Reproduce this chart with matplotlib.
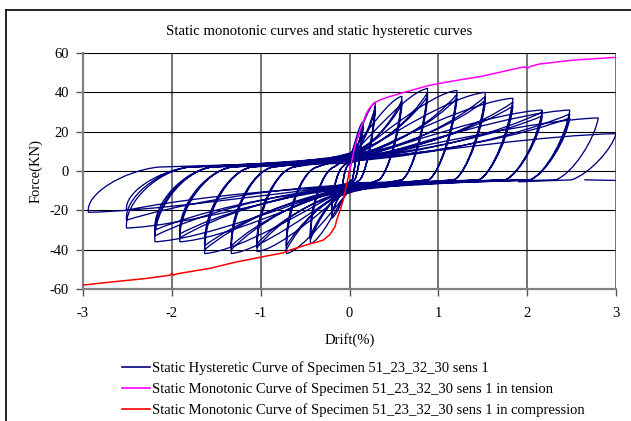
import numpy as np
import matplotlib
matplotlib.use('Agg')
import matplotlib.pyplot as plt
from matplotlib.path import Path
from matplotlib.patches import PathPatch
from matplotlib.lines import Line2D

plt.rcParams['font.family'] = ['Liberation Serif', 'DejaVu Serif']

# ---------------- data ----------------
title = "Static monotonic curves and static hysteretic curves"
x_label = "Drift(%)"
y_label = "Force(KN)"
x_ticks = [-3, -2, -1, 0, 1, 2, 3]
y_ticks = [-60, -40, -20, 0, 20, 40, 60]
legend_labels = [
    "Static Hysteretic Curve of Specimen 51_23_32_30 sens 1",
    "Static Monotonic Curve of Specimen 51_23_32_30 sens 1 in tension",
    "Static Monotonic Curve of Specimen 51_23_32_30 sens 1 in compression",
]

# hysteretic cycles: positive peak (drift, force) and negative peak (drift, force)
cyc_pos_drift = [0.08, 0.08, 0.08, 0.15, 0.15, 0.15, 0.29, 0.29, 0.29,
                 0.59, 0.59, 0.59, 0.88, 0.88, 0.88, 1.21, 1.21, 1.21,
                 1.53, 1.53, 1.53, 1.84, 1.84, 1.84, 2.17, 2.17, 2.17,
                 2.48, 2.48, 2.48, 2.80, 3.00]
cyc_pos_force = [14, 13, 12, 25, 23, 22, 35, 33, 31,
                 38, 36, 34, 42, 40, 38, 41, 39, 37,
                 40, 38, 36, 37, 35, 33, 31, 30, 28,
                 31, 29, 27, 27, 19]
cyc_neg_drift = [-0.08, -0.08, -0.08, -0.20, -0.20, -0.20, -0.44, -0.44, -0.44,
                 -0.71, -0.71, -0.71, -1.04, -1.04, -1.04, -1.33, -1.33, -1.33,
                 -1.63, -1.63, -1.63, -1.91, -1.91, -1.91, -2.19, -2.19, -2.19,
                 -2.51, -2.51, -2.51, -2.94]
cyc_neg_force = [-12, -11, -10, -24, -22, -21, -37, -35, -33,
                 -42, -40, -38, -41, -39, -37, -42, -40, -38,
                 -42, -40, -38, -36, -34, -32, -36, -33, -30,
                 -29, -25, -20, -21]
# force where each cycle crosses zero drift on the upper / lower pinched band
band_upper = [3, 4, 4, 5, 5, 6, 6, 7, 7, 8, 8, 9, 7, 8, 9, 6, 7, 8,
              6, 7, 8, 5, 6, 7, 5, 6, 7, 4, 5, 6, 5, 5]
band_lower = [-5, -6, -6, -7, -7, -8, -8, -9, -9, -10, -10, -11, -9, -10, -11,
              -8, -9, -10, -8, -9, -10, -7, -8, -9, -7, -8, -9, -6, -7, -8, -7, -6]
tail_drift = [2.65, 3.0]
tail_force = [-4.5, -4.8]

# monotonic curves
tens_drift = [0, 0.03, 0.06, 0.12, 0.19, 0.22, 0.25, 0.29, 0.35, 0.45, 0.64, 0.87,
              1.02, 1.25, 1.47, 1.75, 1.97, 2.00, 2.03, 2.14, 2.52, 3.0]
tens_force = [0, 6, 12.4, 21, 29.3, 31.6, 33.3, 34.9, 36.3, 37.8, 40.3, 43.2,
              44.6, 46.4, 48, 50.8, 53, 52.0, 53.1, 54.4, 56.4, 57.8]
comp_drift = [0, -0.04, -0.07, -0.11, -0.144, -0.163, -0.22, -0.295, -0.37, -0.445,
              -0.55, -0.67, -0.745, -1.0, -1.3, -1.57, -1.945, -1.98, -2.0, -2.02,
              -2.28, -2.65, -3.0]
comp_force = [0, -8.5, -14.7, -20.5, -24.9, -28.3, -32.3, -35.1, -36.2, -37.0,
              -38.5, -40.2, -41.6, -43.8, -46.5, -49.5, -52.3, -53.0, -52.0, -53.0,
              -54.6, -56.3, -58]

navy = '#000080'

# ---------------- build hysteretic path ----------------
verts = [(0.0, 0.0)]
codes = [Path.MOVETO]


def curve(c1, c2, p3):
    verts.extend([c1, c2, p3])
    codes.extend([Path.CURVE4] * 3)


def line(p):
    verts.append(p)
    codes.append(Path.LINETO)


cur = (0.0, 0.0)
n = len(cyc_pos_drift)
for i in range(n):
    dp, Fp = cyc_pos_drift[i], cyc_pos_force[i]
    u = cur[1]
    first = (i == 0) or (cyc_pos_drift[i - 1] != dp)
    # loading toward positive peak (envelope-like on first cycle, pinched on repeats)
    if first:
        curve((dp * 0.3, u + (Fp - u) * 0.35), (dp * 0.75, Fp - (Fp - u) * 0.05), (dp, Fp))
    else:
        curve((dp * 0.4, u + (Fp - u) * 0.12), (dp * 0.8, u + (Fp - u) * 0.6), (dp, Fp))
    # unloading
    rp = min(0.2 + 0.1 * dp, 0.6 * dp)
    le = -4.5
    curve((dp - 0.08 * rp, Fp * 0.6), (dp - 0.6 * rp, le + 3.0), (dp - rp, le))
    l0 = band_lower[i]
    if i < len(cyc_neg_drift):
        line((0.0, l0))
        dn, Fn = cyc_neg_drift[i], cyc_neg_force[i]
        firstn = (i == 0) or (cyc_neg_drift[i - 1] != dn)
        if firstn:
            curve((dn * 0.3, l0 + (Fn - l0) * 0.35), (dn * 0.75, Fn - (Fn - l0) * 0.05), (dn, Fn))
        else:
            curve((dn * 0.4, l0 + (Fn - l0) * 0.12), (dn * 0.8, l0 + (Fn - l0) * 0.6), (dn, Fn))
        rn = min(0.2 + 0.2 * abs(dn), 0.6 * abs(dn))
        ue = 2.0
        curve((dn - 0.04 * rn, Fn * 0.55), (dn + 0.5 * rn, ue - 2.0), (dn + rn, ue))
        u0 = band_upper[i + 1] if i + 1 < n else 5
        line((0.0, u0))
        cur = (0.0, u0)
    else:
        line((dp - rp - 0.6, le - 1.0))

hyst_path = Path(verts, codes)

# ---------------- figure ----------------
fig = plt.figure(figsize=(6.31, 4.21), dpi=100)
ax = fig.add_axes([83 / 631, 1 - 289 / 421, (616 - 83) / 631, (289 - 53) / 421])

ax.set_xlim(-3, 3)
ax.set_ylim(-60, 60)
ax.set_xticks(x_ticks)
ax.set_yticks(y_ticks)
ax.set_xticklabels([str(t) for t in x_ticks])
ax.set_yticklabels([str(t) for t in y_ticks])

for xt in x_ticks[1:]:
    ax.axvline(xt, color='#4d4d4d', lw=1.1, zorder=0.5)
for yt in y_ticks[1:]:
    ax.axhline(yt, color='black', lw=0.8, zorder=0.5)

for s in ['top', 'right']:
    ax.spines[s].set_visible(False)
for s in ['left', 'bottom']:
    ax.spines[s].set_color('#808080')
    ax.spines[s].set_linewidth(1.6)
ax.tick_params(axis='both', direction='out', length=5, width=1.0, color='#555555',
               labelsize=10.5)
ax.tick_params(axis='x', pad=8)
ax.tick_params(axis='y', pad=5)

patch = PathPatch(hyst_path, facecolor='none', edgecolor=navy, lw=0.95, zorder=2)
ax.add_patch(patch)
ax.plot(tail_drift, tail_force, color=navy, lw=0.95, zorder=2)
ax.plot(tens_drift, tens_force, color='#FF00FF', lw=1.1, zorder=3)
ax.plot(comp_drift, comp_force, color='#FF0000', lw=1.1, zorder=3)

fig.text(319 / 631, 1 - 32 / 421, title, ha='center', va='center', fontsize=10.6)
ax.set_xlabel(x_label, fontsize=10.5, labelpad=9)
ax.set_ylabel(y_label, fontsize=10.5, labelpad=5)

handles = [Line2D([], [], color=navy, lw=1.2),
           Line2D([], [], color='#FF00FF', lw=1.2),
           Line2D([], [], color='#FF0000', lw=1.2)]
fig.legend(handles, legend_labels, loc='upper left',
           bbox_to_anchor=(122 / 631, 1 - 361 / 421), frameon=False, fontsize=10.5,
           handlelength=1.9, handletextpad=0.15, labelspacing=0.5, borderpad=0,
           borderaxespad=0)

# outer frame (clipped at right and bottom)
fig.add_artist(Line2D([6 / 631, 1.0], [1 - 10 / 421, 1 - 10 / 421], color='black', lw=1.2,
                      transform=fig.transFigure))
fig.add_artist(Line2D([6 / 631, 6 / 631], [1 - 10 / 421, 0.0], color='black', lw=1.2,
                      transform=fig.transFigure))

fig.savefig('out.png', dpi=100)
